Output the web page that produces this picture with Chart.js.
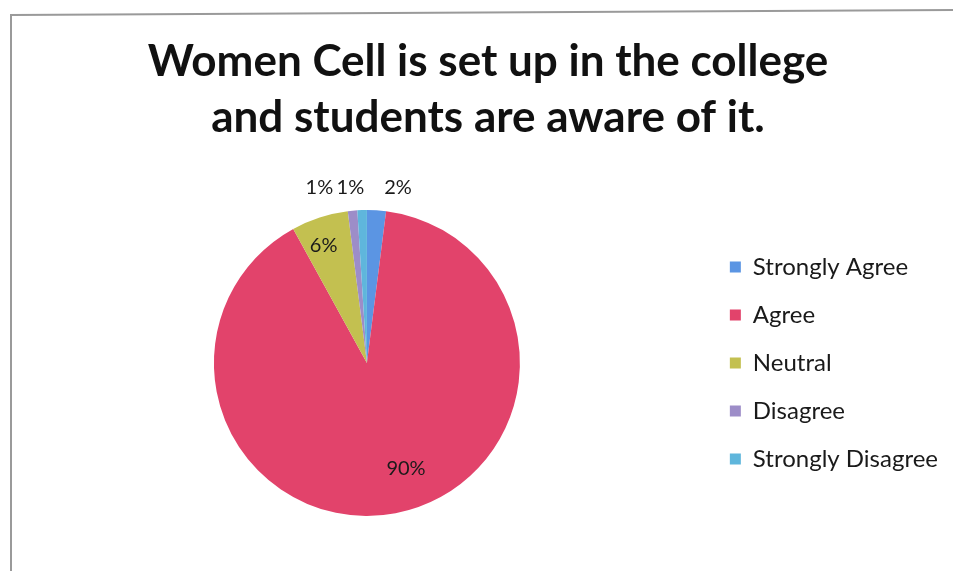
<!DOCTYPE html>
<html>
<head>
<meta charset="utf-8">
<script src="https://cdn.jsdelivr.net/npm/chart.js@4"></script>
<style>
  body { margin: 0; background: #fff; }
</style>
</head>
<body>
<canvas id="myChart" width="953" height="571"></canvas>
<script>
var titleLines = ['Women Cell is set up in the college', 'and students are aware of it.'];
var categories = ['Strongly Agree', 'Agree', 'Neutral', 'Disagree', 'Strongly Disagree'];
var percentages = [2, 90, 6, 1, 1];
var sliceColors = ['#5b95e3', '#e2436b', '#c3c050', '#9d8dc8', '#5fb6dc'];

// where each percent label sits: fraction of radius + sideways nudge (Excel-like layout)
var labelRadius = [1.15, 0.7, 0.81, 1.15, 1.15];
var labelNudge = [20, 19, -5, -31, -11];

var framePlugin = {
    id: 'frame',
    beforeDraw: function (chart) {
        var c = chart.ctx;
        c.save();
        c.fillStyle = '#ffffff';
        c.fillRect(0, 0, chart.width, chart.height);
        c.strokeStyle = '#9a9a9a';
        c.lineWidth = 2;
        c.beginPath();
        c.moveTo(11, chart.height + 5);
        c.lineTo(11, 15);
        c.lineTo(chart.width + 5, 10);
        c.stroke();
        c.restore();
    }
};

var pctLabels = {
    id: 'pctLabels',
    afterDatasetsDraw: function (chart) {
        var c = chart.ctx;
        var meta = chart.getDatasetMeta(0);
        c.save();
        c.font = '20px Lato';
        c.fillStyle = '#1a1a1a';
        c.textAlign = 'center';
        c.textBaseline = 'middle';
        meta.data.forEach(function (arc, i) {
            var p = arc.getProps(['x', 'y', 'startAngle', 'endAngle', 'outerRadius'], true);
            var mid = (p.startAngle + p.endAngle) / 2;
            var r = p.outerRadius * labelRadius[i];
            var x = p.x + Math.cos(mid) * r + labelNudge[i];
            var y = p.y + Math.sin(mid) * r;
            c.fillText(percentages[i] + '%', x, y);
        });
        c.restore();
    }
};

var ctx = document.getElementById('myChart').getContext('2d');
var myChart = new Chart(ctx, {
    type: 'pie',
    data: {
        labels: categories,
        datasets: [{
            data: percentages,
            backgroundColor: sliceColors,
            borderWidth: 0
        }]
    },
    options: {
        responsive: false,
        animation: false,
        layout: {
            padding: { left: 28, right: 5, top: 20, bottom: 55 }
        },
        plugins: {
            title: {
                display: true,
                text: titleLines,
                color: '#111111',
                font: { family: 'Lato', size: 44, weight: 'bold', lineHeight: 1.273 },
                padding: { top: 14, bottom: 64 }
            },
            legend: {
                position: 'right',
                // empty legend title only pushes the items down to the pie's middle
                title: {
                    display: true,
                    text: ' ',
                    font: { size: 1, lineHeight: 1 },
                    padding: { top: 189, bottom: 0 }
                },
                labels: {
                    boxWidth: 11,
                    boxHeight: 11,
                    padding: 24,
                    color: '#1a1a1a',
                    font: { family: 'Lato', size: 24 }
                }
            },
            tooltip: { enabled: false }
        }
    },
    plugins: [framePlugin, pctLabels]
});
</script>
</body>
</html>
